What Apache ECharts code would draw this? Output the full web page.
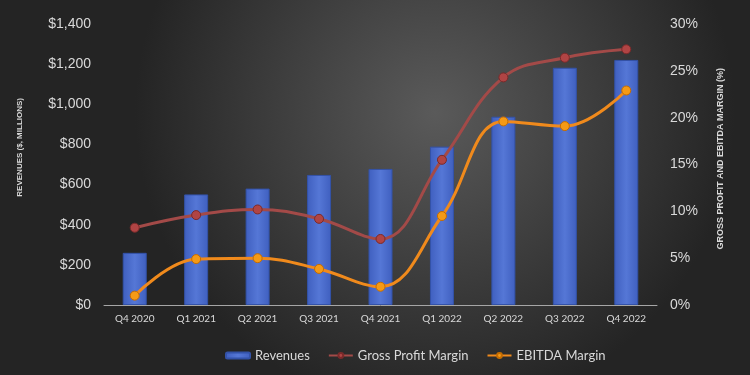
<!DOCTYPE html>
<html><head><meta charset="utf-8">
<script src="https://cdn.jsdelivr.net/npm/echarts@6/dist/echarts.min.js"></script>
<style>html,body{margin:0;padding:0;background:#333}#c{width:750px;height:375px}</style>
</head><body><div id="c"></div>
<script>
const categories = ['Q4 2020','Q1 2021','Q2 2021','Q3 2021','Q4 2021','Q1 2022','Q2 2022','Q3 2022','Q4 2022'];
const revenues = [260, 551, 580, 648, 678, 789, 938, 1182, 1221];
const grossMargin = [8.25, 9.6, 10.2, 9.2, 7.05, 15.5, 24.3, 26.4, 27.3];
const ebitdaMargin = [1.0, 4.9, 5.0, 3.85, 1.95, 9.5, 19.6, 19.1, 22.9];
const leftTicks = {min:0, max:1400, interval:200};
const rightTicks = {min:0, max:30, interval:5};

const chart = echarts.init(document.getElementById('c'), null, {renderer:'canvas'});
const txt = '#d9d9d9';
chart.setOption({
  animation:false,
  backgroundColor:{type:'radial', x:0.58, y:0.3, r:0.8, colorStops:[{offset:0,color:'#5a5a5a'},{offset:1,color:'#242424'}]},
  grid:{left:104, right:93, top:24, bottom:70},
  legend:{
    bottom:8, left:220, itemGap:18, itemWidth:24, itemHeight:6,
    textStyle:{color:txt, fontSize:13, fontFamily:'Lato'},
    data:['Revenues','Gross Profit Margin','EBITDA Margin']
  },
  graphic:[
    {type:'text', left:16, top:98, rotation:Math.PI/2, style:{text:'REVENUES ($, MILLIONS)', fill:txt, font:'bold 8px "Liberation Sans"'}},
    {type:'text', left:716, top:68, rotation:Math.PI/2, style:{text:'GROSS PROFIT AND EBITDA MARGIN (%)', fill:txt, font:'bold 9px "Liberation Sans"'}}
  ],
  xAxis:{type:'category', data:categories,
    axisLine:{lineStyle:{color:'#a6a6a6', width:1}}, axisTick:{show:false},
    axisLabel:{color:txt, fontSize:10, fontFamily:'Lato', margin:9}},
  yAxis:[
    {type:'value', min:leftTicks.min, max:leftTicks.max, interval:leftTicks.interval,
     splitLine:{show:false}, axisLine:{show:false}, axisTick:{show:false},
     axisLabel:{color:txt, fontSize:14, fontFamily:'Liberation Sans', margin:13,
       formatter:v=>'$'+v.toLocaleString('en-US')}},
    {type:'value', min:rightTicks.min, max:rightTicks.max, interval:rightTicks.interval,
     splitLine:{show:false}, axisLine:{show:false}, axisTick:{show:false},
     axisLabel:{color:txt, fontSize:14, fontFamily:'Liberation Sans', margin:13, formatter:v=>v+'%'}}
  ],
  series:[
    {name:'Revenues', type:'bar', data:revenues, barWidth:24, yAxisIndex:0,
     itemStyle:{color:{type:'linear',x:0,y:0,x2:1,y2:0,colorStops:[{offset:0,color:'#3f5fbf'},{offset:0.5,color:'#5577d6'},{offset:1,color:'#3f5fbf'}]},
       borderColor:'#3352a8', borderWidth:1}},
    {name:'Gross Profit Margin', type:'line', data:grossMargin, yAxisIndex:1, smooth:0.4,
     symbol:'circle', symbolSize:9,
     lineStyle:{color:'#a34a48', width:3}, itemStyle:{color:'#b04444', borderColor:'#7a2a2a', borderWidth:1}},
    {name:'EBITDA Margin', type:'line', data:ebitdaMargin, yAxisIndex:1, smooth:0.4,
     symbol:'circle', symbolSize:9,
     lineStyle:{color:'#f08a1c', width:3}, itemStyle:{color:'#f59a16', borderColor:'#c56c00', borderWidth:1}}
  ]
});
</script></body></html>
